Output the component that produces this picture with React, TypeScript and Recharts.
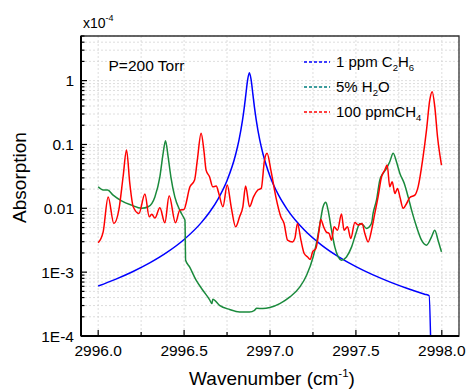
import React from 'react';
import { LineChart, Line, XAxis, YAxis, CartesianGrid, ReferenceArea } from 'recharts';

// ---- data ----
const c2h6Wavenumber = [2996.0, 2996.1, 2996.2, 2996.3, 2996.4, 2996.5, 2996.6, 2996.65, 2996.7, 2996.75, 2996.8, 2996.82, 2996.84, 2996.85, 2996.86, 2996.87, 2996.88, 2996.89, 2996.9, 2996.91, 2996.92, 2996.94, 2996.96, 2997.0, 2997.05, 2997.1, 2997.2, 2997.3, 2997.4, 2997.5, 2997.6, 2997.7, 2997.8, 2997.9, 2997.926, 2997.937];
const c2h6Absorption = [0.000607, 0.000772, 0.001016, 0.001396, 0.002037, 0.003247, 0.00597, 0.00883, 0.01435, 0.02725, 0.0696, 0.1189, 0.2406, 0.375, 0.624, 1.037, 1.33, 1.037, 0.624, 0.375, 0.2406, 0.1189, 0.0696, 0.03186, 0.01607, 0.00964, 0.004574, 0.002659, 0.001736, 0.0012216, 0.000906, 0.000699, 0.000555, 0.000452, 0.00043, 0.00005];

const h2oWavenumber = [2996.000, 2996.029, 2996.055, 2996.087, 2996.136, 2996.194, 2996.253, 2996.291, 2996.330, 2996.359, 2996.378, 2996.392, 2996.407, 2996.423, 2996.446, 2996.475, 2996.500, 2996.505, 2996.509, 2996.532, 2996.570, 2996.609, 2996.648, 2996.662, 2996.667, 2996.706, 2996.765, 2996.823, 2996.881, 2996.910, 2996.923, 2996.958, 2996.999, 2997.057, 2997.116, 2997.174, 2997.213, 2997.251, 2997.274, 2997.294, 2997.309, 2997.325, 2997.338, 2997.358, 2997.377, 2997.397, 2997.416, 2997.445, 2997.475, 2997.500, 2997.523, 2997.542, 2997.562, 2997.591, 2997.600, 2997.620, 2997.639, 2997.658, 2997.678, 2997.697, 2997.717, 2997.736, 2997.756, 2997.781, 2997.804, 2997.824, 2997.853, 2997.882, 2997.911, 2997.940, 2997.959, 2997.978, 2997.998];
const h2oAbsorption = [0.0217, 0.0193, 0.0193, 0.0161, 0.0131, 0.0112, 0.01, 0.01057, 0.0151, 0.0312, 0.0726, 0.1146, 0.0643, 0.0312, 0.0151, 0.00937, 0.00695, 0.00653, 0.00154, 0.00121, 0.000748, 0.000521, 0.000372, 0.000322, 0.000376, 0.000303, 0.00026, 0.000238, 0.000238, 0.000253, 0.000272, 0.000269, 0.000279, 0.000322, 0.000409, 0.000587, 0.000895, 0.00173, 0.00317, 0.00653, 0.01057, 0.0124, 0.00937, 0.00455, 0.00249, 0.00173, 0.00154, 0.00173, 0.00249, 0.00404, 0.0058, 0.00546, 0.00484, 0.0058, 0.00832, 0.0135, 0.0277, 0.0352, 0.0423, 0.0536, 0.0726, 0.0536, 0.0352, 0.0246, 0.0151, 0.00937, 0.00513, 0.00317, 0.00265, 0.00357, 0.00455, 0.00317, 0.00208];

const ch4Wavenumber = [2996.000, 2996.029, 2996.058, 2996.091, 2996.120, 2996.145, 2996.165, 2996.184, 2996.204, 2996.237, 2996.272, 2996.297, 2996.312, 2996.330, 2996.359, 2996.388, 2996.413, 2996.450, 2996.475, 2996.499, 2996.534, 2996.561, 2996.577, 2996.599, 2996.615, 2996.628, 2996.648, 2996.667, 2996.687, 2996.702, 2996.726, 2996.751, 2996.774, 2996.800, 2996.823, 2996.842, 2996.858, 2996.881, 2996.904, 2996.929, 2996.949, 2996.968, 2996.983, 2997.005, 2997.034, 2997.063, 2997.082, 2997.102, 2997.131, 2997.145, 2997.160, 2997.180, 2997.199, 2997.219, 2997.234, 2997.248, 2997.267, 2997.286, 2997.296, 2997.312, 2997.328, 2997.344, 2997.358, 2997.373, 2997.393, 2997.416, 2997.431, 2997.451, 2997.470, 2997.494, 2997.513, 2997.536, 2997.552, 2997.571, 2997.591, 2997.610, 2997.629, 2997.649, 2997.668, 2997.682, 2997.697, 2997.711, 2997.727, 2997.742, 2997.756, 2997.775, 2997.795, 2997.814, 2997.843, 2997.862, 2997.891, 2997.911, 2997.930, 2997.944, 2997.959, 2997.975, 2997.998];
const ch4Absorption = [0.00288, 0.00428, 0.0151, 0.0058, 0.00937, 0.0312, 0.0818, 0.0246, 0.01057, 0.00832, 0.0167, 0.00737, 0.0081, 0.00702, 0.0102, 0.00593, 0.0157, 0.00593, 0.00937, 0.0096, 0.0217, 0.0277, 0.057, 0.150, 0.0818, 0.0397, 0.0312, 0.0217, 0.0223, 0.0171, 0.01057, 0.0231, 0.01057, 0.00513, 0.00737, 0.01057, 0.0223, 0.01057, 0.0151, 0.0193, 0.0205, 0.057, 0.0726, 0.0397, 0.0151, 0.00737, 0.0058, 0.00317, 0.00298, 0.00341, 0.0058, 0.00317, 0.00196, 0.00173, 0.00158, 0.00208, 0.00235, 0.00455, 0.0067, 0.00513, 0.00424, 0.00404, 0.00317, 0.00513, 0.00455, 0.00811, 0.00455, 0.00513, 0.00337, 0.00597, 0.00546, 0.0058, 0.00404, 0.00298, 0.00455, 0.00832, 0.0151, 0.0312, 0.0397, 0.0476, 0.0217, 0.0261, 0.0171, 0.0205, 0.0151, 0.01, 0.0119, 0.0148, 0.0161, 0.0217, 0.0643, 0.169, 0.498, 0.672, 0.391, 0.132, 0.0476];

const xTicks = [2996, 2996.25, 2996.5, 2996.75, 2997, 2997.25, 2997.5, 2997.75, 2998];
const xLabelValues = [2996, 2996.5, 2997, 2997.5, 2998];
const xLabelTexts = ['2996.0', '2996.5', '2997.0', '2997.5', '2998.0'];

const yTicks = [
  0.0001, 0.0002, 0.0003, 0.0004, 0.0005, 0.0006, 0.0007, 0.0008, 0.0009,
  0.001, 0.002, 0.003, 0.004, 0.005, 0.006, 0.007, 0.008, 0.009,
  0.01, 0.02, 0.03, 0.04, 0.05, 0.06, 0.07, 0.08, 0.09,
  0.1, 0.2, 0.3, 0.4, 0.5, 0.6, 0.7, 0.8, 0.9,
  1, 2, 3, 4, 5,
];
const yLabelValues = [0.0001, 0.001, 0.01, 0.1, 1];
const yLabelTexts = ['1E-4', '1E-3', '0.01', '0.1', '1'];

const seriesNames = ['1 ppm C2H6', '5% H2O', '100 ppmCH4'];

const toPoints = (xs: number[], ys: number[]) => xs.map((x, i) => ({ x, y: ys[i] }));
const c2h6Data = toPoints(c2h6Wavenumber, c2h6Absorption);
const h2oData = toPoints(h2oWavenumber, h2oAbsorption);
const ch4Data = toPoints(ch4Wavenumber, ch4Absorption);

const FONT = "'Liberation Sans', Arial, Helvetica, sans-serif";
const BLUE = '#0000ff';
const GREEN = '#1a8a3c';
const GREEN_LEGEND = '#008080';
const RED = '#ff0000';

const XTick = (props: any) => {
  const { x, y, payload } = props;
  const v = payload.value;
  const idx = xLabelValues.findIndex((m) => Math.abs(m - v) < 1e-6);
  const major = idx >= 0;
  return (
    <g>
      <line x1={x} x2={x} y1={y} y2={y - (major ? 6 : 4)} stroke="#000" strokeWidth={1.2} />
      {major && (
        <text x={x} y={y + 20} textAnchor="middle" fontSize={15.5} fontFamily={FONT} fill="#000">
          {xLabelTexts[idx]}
        </text>
      )}
    </g>
  );
};

const YTick = (props: any) => {
  const { x, y, payload } = props;
  const v = payload.value;
  const idx = yLabelValues.findIndex((m) => Math.abs(v / m - 1) < 1e-6);
  const major = idx >= 0;
  return (
    <g>
      <line x1={x} x2={x + (major ? 6 : 3.5)} y1={y} y2={y} stroke="#000" strokeWidth={1.2} />
      {major && (
        <text x={x - 7} y={y + 5.5} textAnchor="end" fontSize={15.5} fontFamily={FONT} fill="#000">
          {yLabelTexts[idx]}
        </text>
      )}
    </g>
  );
};

const legendItems = [
  { color: BLUE, parts: [['1 ppm C', false], ['2', true], ['H', false], ['6', true]] },
  { color: GREEN_LEGEND, parts: [['5% H', false], ['2', true], ['O', false]] },
  { color: RED, parts: [['100 ppmCH', false], ['4', true]] },
];

export default function App() {
  return (
    <div style={{ position: 'absolute', left: 0, top: 0, width: 466, height: 389, background: '#fff' }}>
      <LineChart width={466} height={389} margin={{ top: 36, right: 7, bottom: 0, left: 0 }}>
        <CartesianGrid stroke="#d6d6d6" strokeDasharray="2 2" strokeWidth={0.8} />
        <XAxis
          type="number"
          dataKey="x"
          domain={[2995.9, 2998.1]}
          ticks={xTicks}
          interval={0}
          allowDataOverflow
          height={53}
          tickLine={false}
          tickSize={0}
          tickMargin={0}
          tick={(p: any) => <XTick {...p} />}
          axisLine={{ stroke: '#000', strokeWidth: 2 }}
        />
        <YAxis
          type="number"
          dataKey="y"
          scale="log"
          domain={[0.0001, 5]}
          ticks={yTicks}
          interval={0}
          allowDataOverflow
          width={81}
          tickLine={false}
          tickSize={0}
          tickMargin={0}
          tick={(p: any) => <YTick {...p} />}
          axisLine={{ stroke: '#000', strokeWidth: 2 }}
        />
        <ReferenceArea x1={2995.9} x2={2998.1} y1={0.0001} y2={5} fill="none" stroke="#333" strokeWidth={1.3} ifOverflow="visible" />
        <Line data={c2h6Data} dataKey="y" name={seriesNames[0]} type="monotone" stroke={BLUE} strokeWidth={1.5} dot={false} isAnimationActive={false} />
        <Line data={h2oData} dataKey="y" name={seriesNames[1]} type="monotone" stroke={GREEN} strokeWidth={1.5} dot={false} isAnimationActive={false} />
        <Line data={ch4Data} dataKey="y" name={seriesNames[2]} type="monotone" stroke={RED} strokeWidth={1.5} dot={false} isAnimationActive={false} />
      </LineChart>
      <svg width={466} height={389} style={{ position: 'absolute', left: 0, top: 0, pointerEvents: 'none' }} fontFamily={FONT}>
        <text x={83} y={28} fontSize={14} fill="#000">
          x10
          <tspan fontSize={9} dy={-7}>-4</tspan>
        </text>
        <text x={108.5} y={71} fontSize={15.5} fill="#000">P=200 Torr</text>
        {legendItems.map((it, i) => {
          const cy = 62 + i * 25;
          return (
            <g key={i}>
              <line x1={304} x2={330} y1={cy} y2={cy} stroke={it.color} strokeWidth={1.5} strokeDasharray="3 2" />
              <text x={336} y={cy + 5.3} fontSize={15} fill="#000">
                {it.parts.map((p, j) => {
                  const sub = p[1] as boolean;
                  const prevSub = j > 0 ? (it.parts[j - 1][1] as boolean) : false;
                  const dy = sub ? 4 : prevSub ? -4 : 0;
                  return (
                    <tspan key={j} fontSize={sub ? 9.5 : 15} dy={dy}>
                      {p[0] as string}
                    </tspan>
                  );
                })}
              </text>
            </g>
          );
        })}
        <text x={26} y={177.5} fontSize={19} textAnchor="middle" transform="rotate(-90, 26, 177.5)" fill="#000">
          Absorption
        </text>
        <text x={272} y={385} fontSize={19} textAnchor="middle" fill="#000">
          Wavenumber (cm
          <tspan fontSize={11.5} dy={-8}>-1</tspan>
          <tspan dy={8}>)</tspan>
        </text>
      </svg>
    </div>
  );
}
